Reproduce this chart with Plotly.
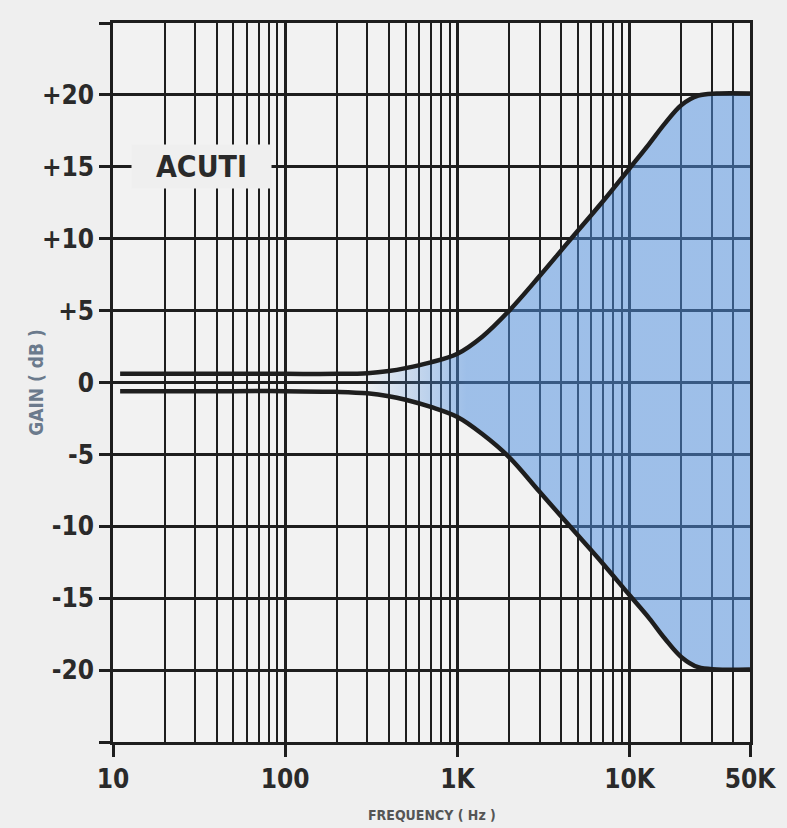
import plotly.graph_objects as go

# ---- data ----
freq_hz = [11, 50, 100, 200, 300, 400, 500, 700, 1000, 1400, 2000, 3000, 4500,
           7000, 10000, 13000, 16000, 20000, 25000, 32000, 50000]
upper_db = [0.6, 0.6, 0.6, 0.6, 0.65, 0.8, 1.0, 1.4, 2.0, 3.2, 5.0, 7.4, 9.9,
            12.6, 14.9, 16.6, 18.0, 19.3, 19.95, 20.1, 20.1]
lower_db = [-0.6, -0.6, -0.6, -0.65, -0.75, -0.95, -1.2, -1.7, -2.4, -3.6, -5.2,
            -7.6, -10.0, -12.6, -14.8, -16.4, -17.8, -19.1, -19.8, -19.95, -19.95]

x_major_vals = [10, 100, 1000, 10000, 50000]
x_major_text = ["10", "100", "1K", "10K", "50K"]
x_minor_vals = [m * d for d in (10, 100, 1000) for m in range(2, 10)] + [20000, 30000, 40000]

y_tick_vals = [-25, -20, -15, -10, -5, 0, 5, 10, 15, 20, 25]
y_tick_text = ["", "-20", "-15", "-10", "-5", "0", "+5", "+10", "+15", "+20", ""]

label_text = "ACUTI"
x_title = "FREQUENCY ( Hz )"
y_title = "GAIN ( dB )"

FONT = "DejaVu Sans Condensed, DejaVu Sans, sans-serif"
INK = "#1e1e1e"
BG = "#efefef"
BLUE = "rgba(80,144,224,0.52)"
BLUE0 = "rgba(80,144,224,0)"

fig = go.Figure()
fig.add_trace(go.Scatter(
    x=freq_hz, y=lower_db, mode="lines", line=dict(color=INK, width=4.5, shape="spline"),
    hoverinfo="skip", showlegend=False))
fig.add_trace(go.Scatter(
    x=freq_hz, y=upper_db, mode="lines", line=dict(color=INK, width=4.5, shape="spline"),
    fill="tonexty", fillcolor=BLUE,
    fillgradient=dict(type="horizontal",
                      colorscale=[[0, BLUE0], [0.38, BLUE0], [0.55, BLUE], [1, BLUE]]),
    hoverinfo="skip", showlegend=False))

fig.update_xaxes(
    type="log", range=[1, 4.69897],
    tickvals=x_major_vals, ticktext=x_major_text,
    showgrid=True, gridcolor=INK, gridwidth=3,
    ticks="outside", ticklen=12, tickwidth=3, tickcolor=INK,
    minor=dict(tickvals=x_minor_vals, showgrid=True, gridcolor=INK, gridwidth=2, ticks=""),
    showline=True, linecolor=INK, linewidth=2.5, mirror=True,
    zeroline=False,
    tickfont=dict(family=FONT, size=26, color="#2a2a2a", weight="bold"),
    ticklabelstandoff=0,
)
fig.update_yaxes(
    range=[-25, 25], tickvals=y_tick_vals, ticktext=y_tick_text,
    showgrid=True, gridcolor=INK, gridwidth=2.5,
    ticks="outside", ticklen=11, tickwidth=2.5, tickcolor=INK,
    showline=True, linecolor=INK, linewidth=2.5, mirror=True,
    zeroline=False,
    tickfont=dict(family=FONT, size=26, color="#2a2a2a", weight="bold"),
    ticklabelstandoff=0,
)

fig.add_annotation(
    x=1.516, y=15, xref="x", yref="y", text=label_text, showarrow=False,
    font=dict(family=FONT, size=30, color="#2a2a2a", weight="bold"),
    bgcolor=BG, width=139, height=43, borderpad=0)
fig.add_annotation(
    x=0.5, y=-0.1015, xref="paper", yref="paper", text=x_title, showarrow=False,
    font=dict(family=FONT, size=14, color="#555555", weight="bold"), yanchor="middle")
fig.add_annotation(
    x=-0.122, y=0.5, xref="paper", yref="paper", text=y_title, showarrow=False,
    textangle=-90, xanchor="center", yanchor="middle",
    font=dict(family=FONT, size=19, color="#6b7a8c", weight="bold"))

fig.update_layout(
    width=787, height=828,
    margin=dict(l=113, r=37, t=23, b=86),
    paper_bgcolor=BG, plot_bgcolor="#f2f2f2",
    showlegend=False,
)

fig.write_html(
    "out.html",
    config={"displayModeBar": False},
    post_script="document.body.style.margin='0';document.body.style.background='#efefef';",
)
